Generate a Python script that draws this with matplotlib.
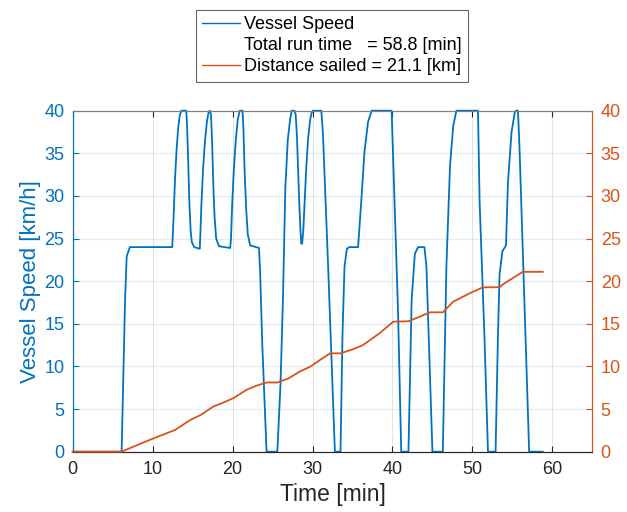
import numpy as np
import matplotlib
matplotlib.use('Agg')
import matplotlib.pyplot as plt
from matplotlib.lines import Line2D

plt.rcParams['font.family'] = ['Liberation Sans', 'DejaVu Sans']

# vessel speed [km/h] vs time [min]
speed_t = [0, 6.12, 6.55, 6.75, 7.15, 12.45,
           12.6, 12.8, 13.0, 13.2, 13.4, 13.6, 14.2,
           14.3, 14.45, 14.6, 14.75, 14.9, 15.2, 15.9,
           15.95, 16.1, 16.3, 16.55, 16.8, 17.0, 17.15, 17.3,
           17.45, 17.6, 17.75, 17.95, 18.3, 19.7,
           19.8, 19.95, 20.15, 20.4, 20.65, 20.9, 21.25,
           21.35, 21.5, 21.7, 21.9, 22.2, 23.3,
           23.45, 23.7, 24.25, 25.6,
           26.0, 26.3, 26.6, 26.9, 27.2, 27.4, 27.75,
           27.9, 28.05, 28.2, 28.35, 28.5, 28.6, 28.7, 28.85,
           29.0, 29.2, 29.45, 29.7, 29.9, 30.05, 31.1,
           31.3, 31.95, 32.8, 33.5,
           33.75, 34.0, 34.3, 34.6, 35.7,
           36.1, 36.5, 36.95, 37.4, 39.9,
           40.1, 40.7, 41.1, 42.0,
           42.4, 42.8, 43.2, 44.0,
           44.25, 45.0, 46.3,
           46.75, 47.2, 47.6, 48.0, 50.7,
           50.9, 51.5, 51.95, 52.9,
           53.2, 53.4, 53.75, 54.2, 54.45, 54.9, 55.3, 55.45, 55.7,
           55.9, 56.5, 57.1, 58.8]
speed_v = [0, 0, 17.8, 22.9, 24.0, 24.0,
           27, 32, 35.5, 38, 39.5, 40, 40,
           38.5, 34, 29, 26, 24.6, 24.0, 23.8,
           25, 29, 33, 36.5, 38.8, 39.8, 40, 39.6,
           36, 31, 27.5, 25, 24.1, 23.9,
           25, 29, 33, 36.5, 39, 40, 40,
           38, 33, 28.5, 25.5, 24.2, 23.9,
           21, 13, 0, 0,
           8, 17.8, 31, 36.5, 39, 40, 40,
           39.5, 37, 33, 29, 25.8, 24.4, 24.4, 26,
           29, 33, 36.8, 38.9, 39.8, 40, 40,
           37.4, 21.8, 0, 0,
           13.7, 21.7, 23.8, 24, 24,
           29.4, 35.2, 38.7, 40, 40,
           34, 16.4, 0, 0,
           17.8, 23.2, 24, 24,
           21.8, 0, 0,
           21.8, 33.5, 38.2, 40, 40,
           29.4, 13.7, 0, 0,
           13.7, 20.8, 23.5, 24.2, 31.6, 37.5, 39.8, 40, 40,
           35.5, 17.8, 0, 0]

# distance sailed [km] vs time [min]
dist_t = [0, 6.12, 9.0, 12.8, 14.7, 16.0, 17.6, 18.8, 20.1, 21.75, 23.0, 24.25, 25.6,
          27.0, 28.4, 29.7, 31.0, 32.2, 33.5, 35.0, 36.3, 38.4, 40.1, 42.0,
          43.3, 44.7, 46.3, 47.6, 49.7, 51.3, 53.4, 54.0, 55.3, 56.3, 58.8]
dist_v = [0, 0, 1.15, 2.55, 3.72, 4.3, 5.3, 5.75, 6.28, 7.26, 7.75, 8.12, 8.12,
          8.6, 9.4, 9.97, 10.8, 11.54, 11.54, 12.0, 12.5, 13.9, 15.25, 15.3,
          15.8, 16.35, 16.35, 17.6, 18.6, 19.28, 19.3, 19.75, 20.5, 21.1, 21.1]

blue = '#0072BD'
orange = '#D95319'
dark = '#262626'

fig = plt.figure(figsize=(6.27, 5.12), dpi=100)
ax = fig.add_axes([72.7/627, 1 - 451.7/512, (592.3 - 72.7)/627, (451.7 - 110.7)/512])
ax2 = ax.twinx()

ax.plot(speed_t, speed_v, color=blue, lw=1.3, clip_on=False, zorder=5)
ax2.plot(dist_t, dist_v, color=orange, lw=1.3, clip_on=False, zorder=5)

ax.set_xlim(0, 65)
ax.set_ylim(0, 40)
ax2.set_ylim(0, 40)
ax.set_xticks(np.arange(0, 61, 10))
ax.set_yticks(np.arange(0, 41, 5))
ax2.set_yticks(np.arange(0, 41, 5))

# grid like matlab's
ax.xaxis.grid(True, color=dark, alpha=0.12, lw=0.8)
ax.yaxis.grid(True, color=blue, alpha=0.12, lw=0.8)
ax.set_axisbelow(True)

ax.tick_params(axis='x', direction='in', length=4, colors=dark, labelsize=13, top=True, pad=7)
ax.tick_params(axis='y', direction='in', length=4, colors=blue, labelsize=13, pad=6)
ax2.tick_params(axis='y', direction='in', length=4, colors=orange, labelsize=13, pad=6)

for a in (ax, ax2):
    a.spines['top'].set_color('#808080')
    a.spines['bottom'].set_color(dark)
    a.spines['left'].set_color(blue)
    a.spines['right'].set_color(orange)
    for s in a.spines.values():
        s.set_linewidth(0.8)

ax.set_xlabel('Time [min]', fontsize=16.5, color=dark, labelpad=3)
ax.set_ylabel('Vessel Speed [km/h]', fontsize=16, color=blue, labelpad=2)

handles = [Line2D([], [], color=blue, lw=1.0),
           Line2D([], [], color='none'),
           Line2D([], [], color=orange, lw=1.0)]
labels = ['Vessel Speed', 'Total run time   = 58.8 [min]', 'Distance sailed = 21.1 [km]']
leg = fig.legend(handles, labels, loc='upper center', bbox_to_anchor=(332/627, 1 - 10/512),
                 fontsize=13, fancybox=False, frameon=True, edgecolor='#404040',
                 handlelength=2.1, handletextpad=0.25, labelspacing=0.22,
                 borderpad=0.35, borderaxespad=0)
leg.get_frame().set_linewidth(0.8)

fig.savefig('out.png', dpi=100)
